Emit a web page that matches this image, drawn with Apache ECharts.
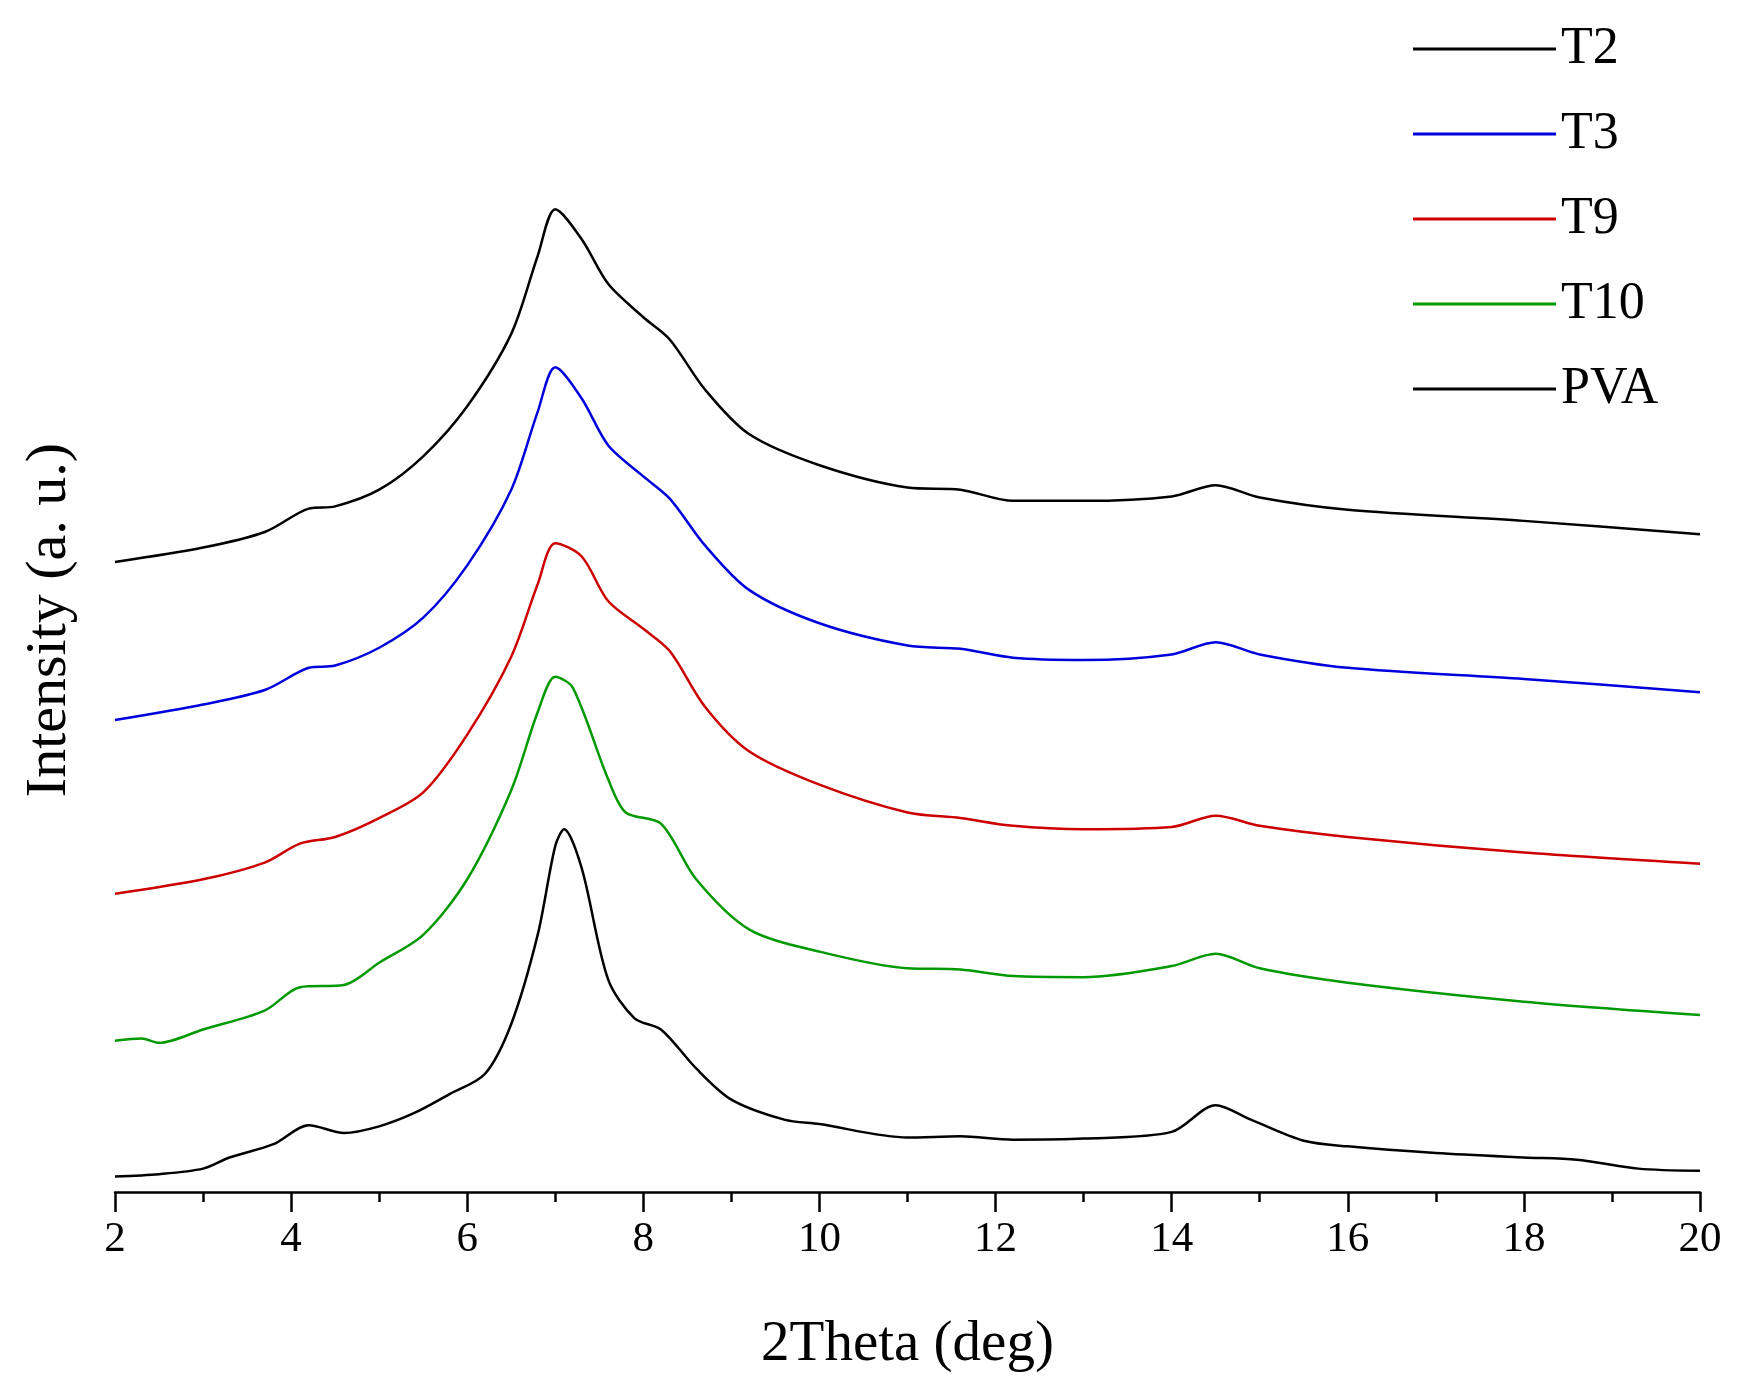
<!DOCTYPE html>
<html>
<head>
<meta charset="utf-8">
<script src="https://cdn.jsdelivr.net/npm/echarts@6/dist/echarts.min.js"></script>
<style>html,body{margin:0;background:#fff}#chart{width:1746px;height:1397px}</style>
</head>
<body>
<div id="chart"></div>
<script>
// [2Theta, intensity a.u. (offset stacked)]
var T2 = [[2,566],[3,579],[3.7,593],[4.2,614],[4.5,616],[5,631],[5.5,661],[6,706],[6.5,771],[6.8,841],[7,883],[7.3,856],[7.6,816],[8,786],[8.3,766],[8.7,721],[9.2,681],[10,653],[11,633],[11.6,631],[12.2,621],[13,621],[14,625],[14.5,635],[15,624],[16,613],[18,603],[20,591]];
var T3 = [[2,424],[3,438],[3.7,451],[4.2,471],[4.5,473],[5,489],[5.5,516],[6,563],[6.5,631],[6.8,701],[7,741],[7.3,713],[7.6,671],[8,643],[8.3,623],[8.7,581],[9.2,541],[10,511],[11,491],[11.6,488],[12.2,480],[13,478],[14,483],[14.5,494],[15,483],[16,471],[18,461],[20,449]];
var T9 = [[2,268],[3,281],[3.7,296],[4.1,313],[4.5,319],[5,336],[5.5,359],[6,411],[6.5,481],[6.8,546],[7,583],[7.3,571],[7.6,531],[8,506],[8.3,486],[8.7,436],[9.2,396],[10,366],[11,341],[11.6,336],[12.2,329],[13,326],[14,328],[14.5,338],[15,329],[16,319],[18,305],[20,295]];
var T10 = [[2,136],[2.3,138],[2.5,134],[3,146],[3.7,163],[4.1,184],[4.6,186],[5,206],[5.5,231],[6,281],[6.5,361],[6.8,431],[7,463],[7.2,453],[7.6,371],[7.8,341],[8.2,331],[8.6,281],[9.2,236],[10,216],[11,201],[11.6,200],[12.2,194],[13,193],[14,203],[14.5,214],[15,201],[16,188],[18,171],[20,159]];
var PVA = [[2,14],[2.5,16],[3,21],[3.3,31],[3.8,43],[4.2,60],[4.6,53],[5,59],[5.4,71],[5.8,88],[6.2,106],[6.5,151],[6.8,231],[7,311],[7.1,326],[7.3,291],[7.6,191],[7.9,156],[8.2,146],[8.6,111],[9,83],[9.6,65],[10,61],[11,49],[11.6,50],[12.2,47],[13,48],[14,54],[14.5,78],[14.9,65],[15.5,46],[16,41],[17,35],[18,31],[18.6,29],[19.3,21],[20,19]];
var names = ['T2', 'T3', 'T9', 'T10', 'PVA'];
var colors = ['#000000', '#0000dd', '#cc0000', '#009900', '#000000'];
var datas = [T2, T3, T9, T10, PVA];

var chart = echarts.init(document.getElementById('chart'));
var font = 'Liberation Serif';
var series = [];
for (var i = 0; i < names.length; i++) {
    series.push({
        name: names[i],
        type: 'line',
        data: datas[i],
        symbol: 'none',
        smooth: 0.3,
        lineStyle: { color: colors[i], width: 2.5 },
        itemStyle: { color: colors[i] }
    });
}
chart.setOption({
    backgroundColor: '#fff',
    animation: false,
    grid: { left: 115, right: 46, top: 0, bottom: 205 },
    legend: {
        orient: 'vertical',
        left: 1408,
        top: 18,
        icon: 'rect',
        itemWidth: 143,
        itemHeight: 3,
        itemGap: 33,
        data: names,
        textStyle: { fontFamily: font, fontSize: 52, color: '#000', lineHeight: 48 }
    },
    xAxis: {
        type: 'value',
        min: 2,
        max: 20,
        interval: 2,
        name: '2Theta (deg)',
        nameLocation: 'middle',
        nameGap: 125,
        nameTextStyle: { fontFamily: font, fontSize: 57, color: '#000' },
        axisLine: { lineStyle: { color: '#000', width: 2.5 } },
        axisTick: { length: 20, lineStyle: { color: '#000', width: 2.5 } },
        minorTick: { show: true, splitNumber: 2, length: 10, lineStyle: { color: '#000', width: 2.5 } },
        axisLabel: { fontFamily: font, fontSize: 43, color: '#000', margin: 26 },
        splitLine: { show: false }
    },
    yAxis: { type: 'value', min: 0, max: 1071, show: false },
    graphic: [{
        type: 'text',
        rotation: Math.PI / 2,
        x: 50, y: 620,
        style: { text: 'Intensity (a. u.)', font: '58px "Liberation Serif"', fill: '#000', textAlign: 'center', textVerticalAlign: 'middle' }
    }],
    series: series
});
</script>
</body>
</html>
